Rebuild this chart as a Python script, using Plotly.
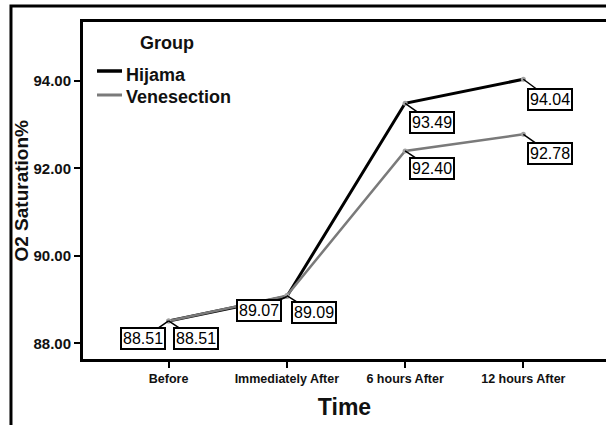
import plotly.graph_objects as go

times = ["Before", "Immediately After", "6 hours After", "12 hours After"]
hijama = [88.51, 89.07, 93.49, 94.04]
venesection = [88.51, 89.09, 92.40, 92.78]
y_ticks = [88, 90, 92, 94]
y_tick_text = ["88.00", "90.00", "92.00", "94.00"]
groups = ["Hijama", "Venesection"]

FONT = "Liberation Sans, Arial, sans-serif"
TXT = "#111111"
colors = ["black", "#7a7a7a"]
widths = [3, 2.5]

fig = go.Figure()
for name, vals, c, w in zip(groups, (hijama, venesection), colors, widths):
    fig.add_trace(go.Scatter(x=times, y=vals, name=name, mode="lines",
                             line=dict(color=c, width=w), showlegend=False))
    fig.add_trace(go.Scatter(x=times, y=vals, mode="markers", showlegend=False,
                             marker=dict(size=5, color="#a0a0a0"), hoverinfo="skip"))

# label offsets (pixels) for each data label
h_off = [(-26, 18), (-28, 14), (27, 19), (27, 20)]
v_off = [(27, 18), (27, 17), (27, 18), (27, 19)]

for series, offs in ((hijama, h_off), (venesection, v_off)):
    for t, v, (ax, ay) in zip(times, series, offs):
        fig.add_annotation(x=t, y=v, text=f"{v:.2f}", showarrow=True,
                           arrowhead=0, arrowwidth=1.5, arrowcolor="black",
                           ax=ax, ay=ay, bordercolor="black", borderwidth=2,
                           borderpad=1, bgcolor="white",
                           font=dict(family=FONT, size=16, color="black"))

# legend (drawn manually for exact placement)
fig.add_annotation(xref="paper", yref="paper", x=0.1606, y=0.9377, text="<b>Group</b>",
                   showarrow=False, xanchor="center", yanchor="middle",
                   font=dict(family=FONT, size=18, color=TXT))
leg_y_text = [0.8427, 0.7774]
leg_y_line = [0.8546, 0.7834]
for name, c, w, yt, yl in zip(groups, colors, widths, leg_y_text, leg_y_line):
    fig.add_annotation(xref="paper", yref="paper", x=0.0785, y=yt, text=f"<b>{name}</b>",
                       showarrow=False, xanchor="left", yanchor="middle",
                       font=dict(family=FONT, size=18, color=TXT))
    fig.add_shape(type="line", xref="paper", yref="paper", x0=0.0268, x1=0.0746,
                  y0=yl, y1=yl, line=dict(color=c, width=w + 0.5))

# y-axis title
fig.add_annotation(xref="paper", yref="paper", x=-0.1185, y=0.5, text="<b>O2 Saturation%</b>",
                   showarrow=False, textangle=-90, xanchor="center", yanchor="middle",
                   font=dict(family=FONT, size=19, color=TXT))

# outer frame (left and top)
fig.add_shape(type="path", xref="paper", yref="paper",
              path="M -0.1377,-0.25 L -0.1377,1.0475 L 1.05,1.0475",
              line=dict(color="black", width=3))

fig.update_layout(
    width=606, height=425,
    margin=dict(l=83, r=0, t=22, b=66),
    paper_bgcolor="white", plot_bgcolor="white",
    font=dict(family=FONT, color=TXT),
    showlegend=False,
)

fig.update_xaxes(type="category", range=[-0.724, 3.699],
                 showline=True, linecolor="black", linewidth=3, mirror=True,
                 ticks="outside", ticklen=6, tickwidth=1.5, tickcolor="black",
                 showgrid=False, zeroline=False,
                 tickfont=dict(family=FONT, size=12.5, color=TXT),
                 tickprefix="<b>", ticksuffix="</b>",
                 title=dict(text="<b>Time</b>", font=dict(family=FONT, size=23, color=TXT),
                            standoff=14))
fig.update_yaxes(range=[87.64, 95.35], tickvals=y_ticks,
                 ticktext=[f"<b>{t}</b>" for t in y_tick_text],
                 showline=True, linecolor="black", linewidth=3,
                 ticks="outside", ticklen=6, tickwidth=1.5, tickcolor="black",
                 showgrid=False, zeroline=False,
                 tickfont=dict(family=FONT, size=15, color=TXT))

fig.write_html("out.html", config={"displayModeBar": False},
               post_script="document.body.style.margin='0';document.body.style.overflow='hidden';")
